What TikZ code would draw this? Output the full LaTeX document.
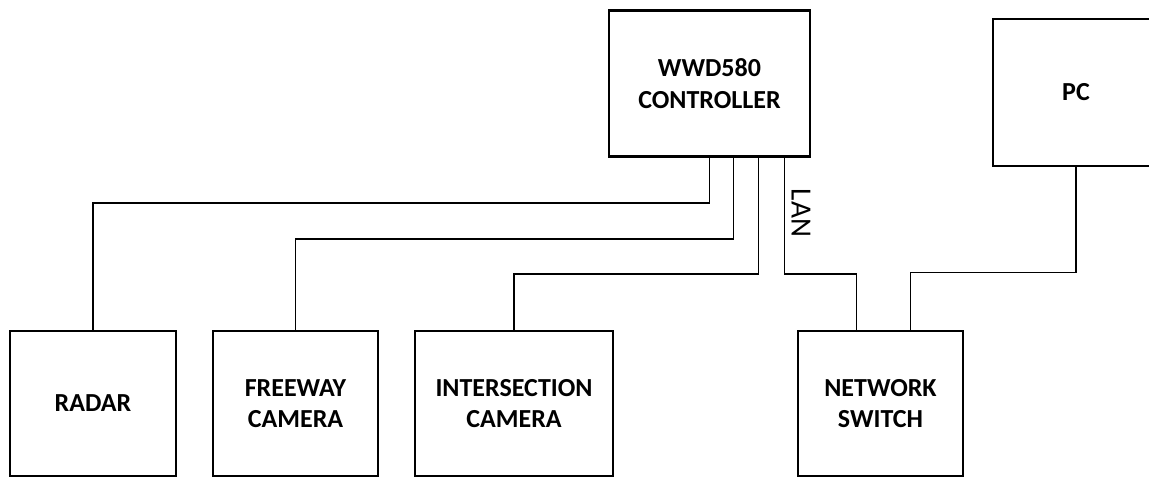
\documentclass[tikz,border=0pt]{standalone}
\usepackage{fontspec}
\setmainfont{Carlito}
\usetikzlibrary{calc}

\begin{document}
\begin{tikzpicture}[
  x=0.75pt, y=-0.75pt,
  unit/.style={draw, rectangle, line width=2.2pt, align=center, inner sep=0pt,
    font=\bfseries\fontsize{19.5}{23.5}\selectfont},
  wire/.style={line width=1.1pt}
]
  \useasboundingbox (0,0) rectangle (1149,476);
  \clip (0,0) rectangle (1149,476);

  \node[unit, minimum width=201*0.75pt, minimum height=146*0.75pt] (ctrl) at (709.5,83.5) {WWD580\\CONTROLLER};
  \node[unit, minimum width=166*0.75pt, minimum height=147*0.75pt] (pc) at (1076,92.5) {PC};

  \node[unit, minimum width=166*0.75pt, minimum height=145*0.75pt] (radar) at (93,403.5) {RADAR};
  \node[unit, minimum width=165*0.75pt, minimum height=145*0.75pt] (freeway) at (295.5,403.5) {FREEWAY\\CAMERA};
  \node[unit, minimum width=198*0.75pt, minimum height=145*0.75pt] (inter) at (514,403.5) {INTERSECTION\\CAMERA};
  \node[unit, minimum width=165*0.75pt, minimum height=145*0.75pt] (switch) at (880.5,403.5) {NETWORK\\SWITCH};

  \draw[wire] (ctrl.south) -- ++(0,45) -| (radar.north);
  \draw[wire] ($(ctrl.south)+(24,0)$) -- ++(0,81) -| (freeway.north);
  \draw[wire] ($(ctrl.south)+(49,0)$) -- ++(0,116) -| (inter.north);
  \draw[wire] ($(ctrl.south)+(75,0)$) -- ++(0,116) -| ($(switch.north)+(-24,0)$);
  \draw[wire] ($(switch.north)+(30,0)$) -- ++(0,-57) -| (pc.south);

  \node[rotate=-90, font=\fontsize{22}{26}\selectfont] (lan) at (801,213) {LAN};
\end{tikzpicture}
\end{document}
